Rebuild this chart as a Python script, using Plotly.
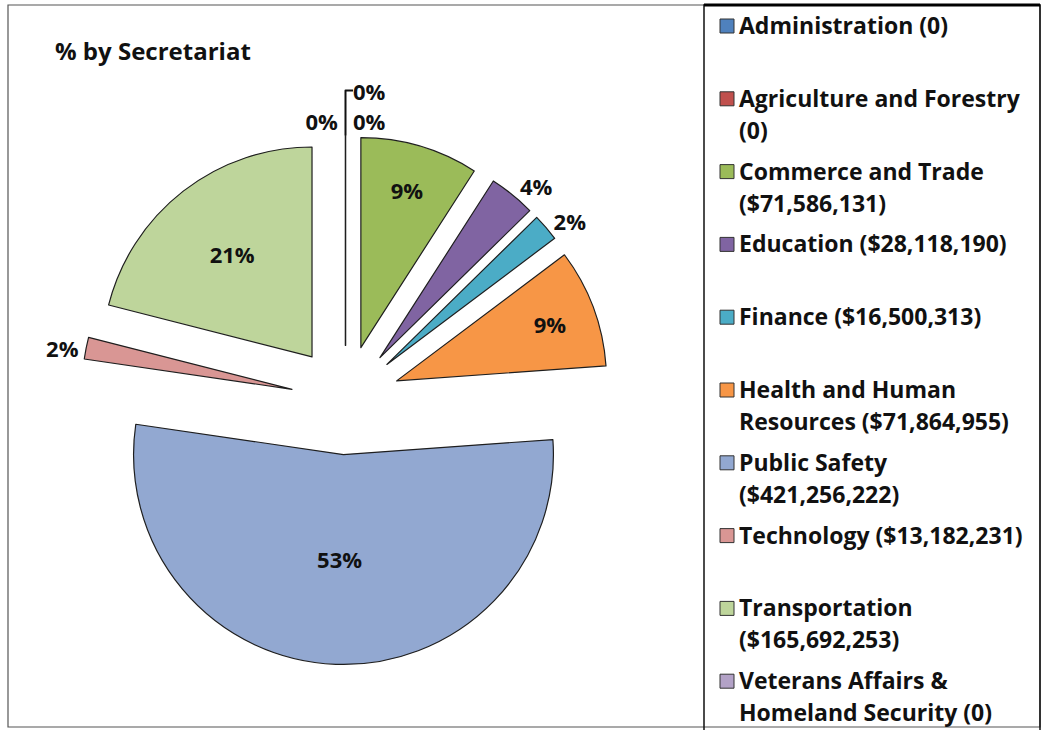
import textwrap
import plotly.graph_objects as go

# Budget by secretariat (dollars)
secretariats = [
    "Administration",
    "Agriculture and Forestry",
    "Commerce and Trade",
    "Education",
    "Finance",
    "Health and Human Resources",
    "Public Safety",
    "Technology",
    "Transportation",
    "Veterans Affairs & Homeland Security",
]
amounts = [0, 0, 71586131, 28118190, 16500313, 71864955, 421256222, 13182231, 165692253, 0]
colors = ["#4F81BD", "#C0504D", "#9BBB59", "#8064A2", "#4BACC6",
          "#F79646", "#92A8D1", "#D99694", "#BED59B", "#B3A2C7"]

W, H = 1043, 730
FONT = "Open Sans"
TEXT = "#111111"


def px(x):
    return x / W


def py(y):
    return 1 - y / H


def amount_text(v):
    return "0" if v == 0 else "${:,}".format(v)


legend_labels = [f"{n} ({amount_text(v)})" for n, v in zip(secretariats, amounts)]

# inside labels for the large wedges, outside for the thin ones
text_pos = ["outside" if v < 0.05 * sum(amounts) else "inside" for v in amounts]

fig = go.Figure()
fig.add_trace(go.Pie(
    labels=secretariats,
    values=amounts,
    sort=False,
    direction="clockwise",
    rotation=0,
    pull=[0.26] * len(amounts),
    marker=dict(colors=colors, line=dict(color="#1e1e1e", width=1.2)),
    texttemplate="%{percent:.0%}",
    textposition=text_pos,
    insidetextorientation="horizontal",
    textfont=dict(family=FONT, size=22, color=TEXT, weight="bold"),
    domain=dict(x=[px(81), px(610)], y=[py(664.5), py(135.5)]),
    showlegend=False,
    hoverinfo="label+value+percent",
))

shapes = []
annotations = []

# outer frame and legend box
shapes.append(dict(type="rect", xref="paper", yref="paper",
                   x0=px(8), x1=px(1040), y0=py(727), y1=py(5),
                   line=dict(color="#555555", width=1.2)))
shapes.append(dict(type="rect", xref="paper", yref="paper",
                   x0=px(704), x1=px(1040), y0=py(735), y1=py(5),
                   line=dict(color="#111111", width=1.5)))
shapes.append(dict(type="line", xref="paper", yref="paper",
                   x0=px(704), x1=px(1040), y0=py(5), y1=py(5),
                   line=dict(color="#000000", width=3)))

# chart title
annotations.append(dict(text="<b>% by Secretariat</b>", xref="paper", yref="paper",
                        x=px(53), y=py(50), xanchor="left", yanchor="middle",
                        showarrow=False,
                        font=dict(family=FONT, size=24, color=TEXT)))

# legend entries
top, step, line_gap = 25, 72.8, 32
for i, (label, col) in enumerate(zip(legend_labels, colors)):
    yc = top + i * step
    shapes.append(dict(type="rect", xref="paper", yref="paper",
                       x0=px(720), x1=px(734), y0=py(yc + 8), y1=py(yc - 6),
                       fillcolor=col, line=dict(color="#333333", width=1)))
    for j, line in enumerate(textwrap.wrap(label, 24)):
        annotations.append(dict(text=f"<b>{line}</b>", xref="paper", yref="paper",
                                x=px(737), y=py(yc + j * line_gap),
                                xanchor="left", yanchor="middle", showarrow=False,
                                font=dict(family=FONT, size=23, color=TEXT)))

fig.update_layout(
    width=W, height=H,
    margin=dict(l=0, r=0, t=0, b=0, autoexpand=False),
    paper_bgcolor="white",
    plot_bgcolor="white",
    shapes=shapes,
    annotations=annotations,
    showlegend=False,
)

fig.write_html("out.html")
